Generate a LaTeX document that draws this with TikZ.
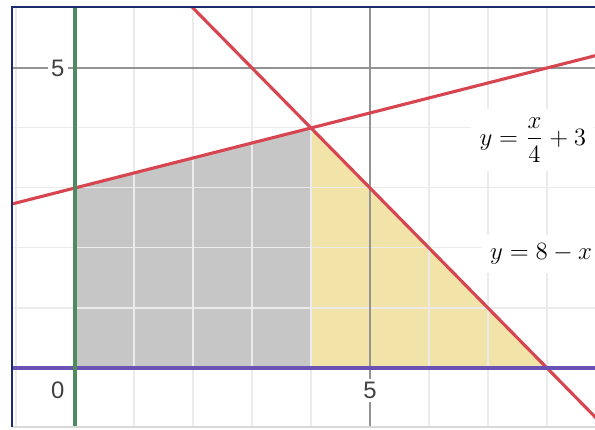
\documentclass[tikz,border=0pt]{standalone}
\usepackage{amsmath}
\usepackage{fontspec}
\setsansfont{Liberation Sans}
\usetikzlibrary{positioning}

\definecolor{framenavy}{HTML}{1B2C6E}
\definecolor{linered}{HTML}{D64550}
\definecolor{axispurple}{HTML}{6A52B4}
\definecolor{axisgreen}{HTML}{4E8B5F}
\definecolor{regiongray}{HTML}{C6C6C6}
\definecolor{regionyellow}{HTML}{F2E3A9}

\begin{document}
\begin{tikzpicture}[
    x=1cm, y=1.017cm,
    gridline/.style={draw=gray!16, line width=0.5pt},
    majorline/.style={draw=gray!85, line width=0.6pt},
    boundary/.style={draw=linered, line width=1.5pt},
    ticklabel/.style={
        fill=white, inner sep=1.5pt,
        font=\sffamily\fontsize{11.5}{13}\selectfont, text=black!75
    },
    eqlabel/.style={
        fill=white, inner sep=4pt,
        font=\fontsize{13}{15}\selectfont
    }
]

\useasboundingbox (-1.271,-1.033) rectangle (8.814,6.133);

\begin{scope}
\clip (-1.068,-0.983) rectangle (8.814,6.017);

% feasible regions
\fill[regiongray]   (0,0) -- (0,3) -- (4,4) -- (4,0) -- cycle;
\fill[regionyellow] (4,0) -- (4,4) -- (8,0) -- cycle;

% grid
\foreach \gx in {-1,1,2,3,4,6,7,8}
    \draw[gridline] (\gx,-1.2) -- (\gx,6.2);
\foreach \gy in {-1,1,2,3,4,6}
    \draw[gridline] (-1.2,\gy) -- (9,\gy);
\draw[majorline] (5,-1.2) -- (5,6.2);
\draw[majorline] (-1.2,5) -- (9,5);

% labels
\node (lblzero) [ticklabel] at (-0.29,-0.37) {0};
\node (lblyfive) [ticklabel] at (-0.29,5) {5};
\node (lblxfive) [ticklabel] at (5,-0.37) {5};

\node (eqtop) [eqlabel] at (7.76,3.8) {$y=\dfrac{x}{4}+3$};
\node (eqbot) [eqlabel] at (7.9,1.9) {$y=8-x$};

% constraint lines
\draw[boundary] (-1.3,-1.3/4+3) -- (9,9/4+3);
\draw[boundary] (1.8,6.2) -- (9.2,-1.2);

% axes
\draw[draw=axispurple, line width=2pt] (-1.2,0) -- (9,0);
\draw[draw=axisgreen, line width=2.2pt] (0,-1.2) -- (0,6.2);
\end{scope}

% frame
\draw[draw=gray!30, line width=0.8pt] (-1.068,-0.983) -- (8.814,-0.983);
\draw[draw=framenavy, line width=1.1pt] (-1.068,-0.983) -- (-1.068,6.017) -- (8.814,6.017);

\end{tikzpicture}
\end{document}
